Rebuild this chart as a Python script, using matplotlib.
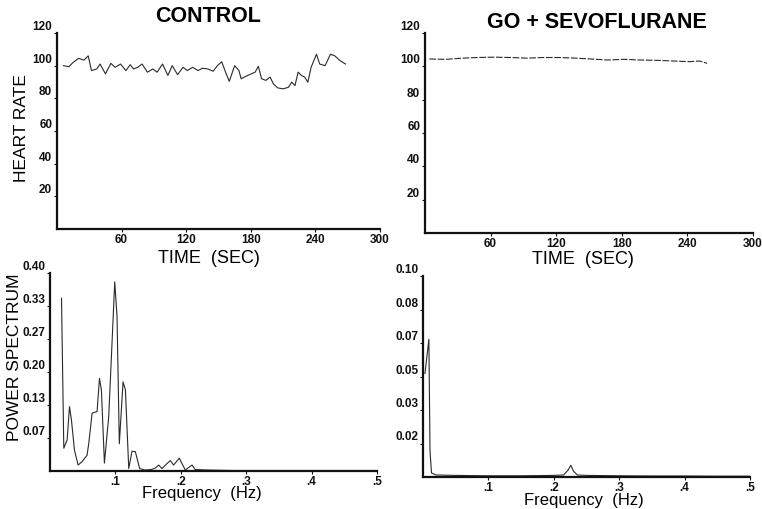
import matplotlib.pyplot as plt

# --- data ---
# heart rate, control
ctrl_t = [6, 11, 15, 20, 25, 29, 32, 37, 40, 45, 50, 54, 59, 64, 68, 71, 75, 79, 84, 89,
          93, 98, 103, 107, 112, 117, 121, 126, 131, 135, 140, 145, 149, 153, 156, 160, 165, 169, 171, 177,
          184, 187, 190, 194, 198, 201, 205, 210, 215, 218, 221, 224, 227, 230, 233, 236, 241, 244, 249, 254,
          258, 263, 268]
ctrl_hr = [100, 99.4, 102, 104.5, 103.4, 106, 97, 98, 101, 95, 101.4, 99, 101, 97, 100.6, 98, 99, 101, 96, 98,
           96, 101, 94, 100, 94.5, 99, 97, 99, 97, 98.4, 98, 96.6, 100, 102.4, 97, 90.4, 100, 97, 92, 94,
           96, 99.6, 92, 91, 93, 88.8, 86.4, 85.8, 86.8, 89.9, 87.8, 96, 94, 93, 89.9, 99, 107, 101, 100, 107,
           106, 103, 101]

# heart rate, GO + sevoflurane
sevo_t = [4, 19, 34, 48, 63, 78, 93, 108, 123, 138, 152, 167, 182, 197, 212, 227, 242, 251, 258]
sevo_hr = [104.4, 104.2, 104.9, 105.3, 105.5, 105.3, 104.9, 105.3, 105.3, 104.9,
           104.4, 103.8, 104.2, 103.8, 103.6, 103.2, 102.8, 103.2, 101.8]

# power spectrum, control
ctrl_f = [0.0176, 0.0211, 0.0262, 0.0298, 0.0328, 0.0374, 0.043, 0.0491, 0.0567, 0.0593,
          0.0644, 0.072, 0.0756, 0.0786, 0.0832, 0.0898, 0.099, 0.1025, 0.106, 0.1117,
          0.1153, 0.1204, 0.1254, 0.1305, 0.137, 0.145, 0.155, 0.1611, 0.1662, 0.1712,
          0.1789, 0.184, 0.189, 0.1977, 0.2018, 0.2069, 0.2171, 0.222, 0.24, 0.28,
          0.33, 0.38, 0.43, 0.5]
ctrl_ps = [0.349, 0.046, 0.063, 0.130, 0.103, 0.042, 0.012, 0.019, 0.032, 0.056,
           0.117, 0.12, 0.187, 0.164, 0.016, 0.11, 0.382, 0.312, 0.055, 0.18,
           0.164, 0.005, 0.04, 0.039, 0.005, 0.002, 0.003, 0.006, 0.012, 0.005,
           0.015, 0.021, 0.012, 0.026, 0.015, 0.002, 0.012, 0.003, 0.002, 0.001,
           0.001, 0.001, 0.001, 0.001]

# power spectrum, GO + sevoflurane
sevo_f = [0.003, 0.009, 0.0107, 0.013, 0.02, 0.05, 0.1, 0.15, 0.2, 0.215,
          0.222, 0.226, 0.23, 0.236, 0.25, 0.3, 0.35, 0.4, 0.45, 0.5]
sevo_ps = [0.0515, 0.0685, 0.013, 0.002, 0.001, 0.0008, 0.0006, 0.0006, 0.0008, 0.001,
           0.0035, 0.0058, 0.003, 0.001, 0.0008, 0.0006, 0.0005, 0.0005, 0.0004, 0.0004]

hr_ticks = [20, 40, 60, 80, 100, 120]
time_ticks = [60, 120, 180, 240, 300]
freq_ticks = [0.1, 0.2, 0.3, 0.4, 0.5]
freq_labels = [".1", ".2", ".3", ".4", ".5"]
ctrl_ps_ticks = [0.4 * k / 6 for k in range(1, 7)]
ctrl_ps_labels = ["0.07", "0.13", "0.20", "0.27", "0.33", "0.40"]
sevo_ps_ticks = [0.1 * k / 6 for k in range(1, 7)]
sevo_ps_labels = ["0.02", "0.03", "0.05", "0.07", "0.08", "0.10"]

plt.rcParams['font.family'] = ['Liberation Sans', 'DejaVu Sans']

fig = plt.figure(figsize=(7.62, 5.09), dpi=100)
W, H = 762, 509
LINE = '#2a2a2a'


def make_ax(l, r, t, b):
    ax = fig.add_axes([l / W, (H - b) / H, (r - l) / W, (b - t) / H])
    for s in ['top', 'right']:
        ax.spines[s].set_visible(False)
    for s in ['left', 'bottom']:
        ax.spines[s].set_linewidth(1.6)
        ax.spines[s].set_color('#111111')
    ax.tick_params(direction='out', length=2, width=0.8, pad=1.5,
                   labelsize=8.5, colors='#111111')
    return ax


def style_labels(ax):
    for lab in ax.get_yticklabels():
        lab.set_fontweight('bold')
        lab.set_verticalalignment('bottom')
    for lab in ax.get_xticklabels():
        lab.set_fontweight('bold')


# heart rate panels
ax1 = make_ax(57, 380, 33, 229)
ax1.plot(ctrl_t, ctrl_hr, color=LINE, lw=0.8)
ax1.set_xlim(0, 300)
ax1.set_ylim(0, 120)
ax1.set_xticks(time_ticks)
ax1.set_yticks(hr_ticks)
ax1.set_xticklabels([str(v) for v in time_ticks])
ax1.set_yticklabels([str(v) for v in hr_ticks])
style_labels(ax1)
ax1.set_xlabel("TIME  (SEC)", fontsize=13, va='center')
ax1.xaxis.set_label_coords(0.47, -0.148)
ax1.set_ylabel("HEART RATE", fontsize=12.5, va='center')
ax1.yaxis.set_label_coords(-0.111, 0.515)

ax2 = make_ax(425, 753, 33, 233)
ax2.plot(sevo_t, sevo_hr, color=LINE, lw=0.8, dashes=(6, 1.5))
ax2.set_xlim(0, 300)
ax2.set_ylim(0, 120)
ax2.set_xticks(time_ticks)
ax2.set_yticks(hr_ticks)
ax2.set_xticklabels([str(v) for v in time_ticks])
ax2.set_yticklabels([str(v) for v in hr_ticks])
style_labels(ax2)
ax2.set_xlabel("TIME  (SEC)", fontsize=13, va='center')
ax2.xaxis.set_label_coords(0.482, -0.135)

# power spectrum panels
ax3 = make_ax(50, 377, 273, 471)
ax3.plot(ctrl_f, ctrl_ps, color=LINE, lw=0.8)
ax3.set_xlim(0, 0.5)
ax3.set_ylim(0, 0.4)
ax3.set_xticks(freq_ticks)
ax3.set_xticklabels(freq_labels)
ax3.set_yticks(ctrl_ps_ticks)
ax3.set_yticklabels(ctrl_ps_labels)
style_labels(ax3)
ax3.set_xlabel("Frequency  (Hz)", fontsize=12, va='center')
ax3.xaxis.set_label_coords(0.465, -0.116)
ax3.set_ylabel("POWER SPECTRUM", fontsize=12.5, va='center')
ax3.yaxis.set_label_coords(-0.11, 0.576)

ax4 = make_ax(423, 750, 276, 477)
ax4.plot(sevo_f, sevo_ps, color=LINE, lw=0.8)
ax4.set_xlim(0, 0.5)
ax4.set_ylim(0, 0.1)
ax4.set_xticks(freq_ticks)
ax4.set_xticklabels(freq_labels)
ax4.set_yticks(sevo_ps_ticks)
ax4.set_yticklabels(sevo_ps_labels)
style_labels(ax4)
ax4.set_xlabel("Frequency  (Hz)", fontsize=12, va='center')
ax4.xaxis.set_label_coords(0.492, -0.119)

# panel titles
fig.text(208 / W, 1 - 17 / H, "CONTROL", ha='center', va='center',
         fontsize=15.5, fontweight='bold')
fig.text(597 / W, 1 - 23 / H, "GO + SEVOFLURANE", ha='center', va='center',
         fontsize=15.5, fontweight='bold')

fig.savefig("out.png", dpi=100)
